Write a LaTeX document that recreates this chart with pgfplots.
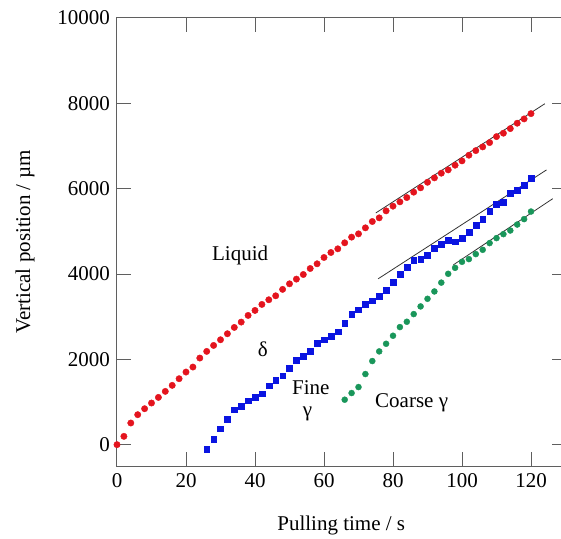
\documentclass[border=0pt]{standalone}
\usepackage{pgfplots}
\pgfplotsset{compat=1.18}
\usepackage{fontspec}
\setmainfont{Liberation Serif}
\definecolor{cred}{RGB}{228,20,30}
\definecolor{cblue}{RGB}{10,20,225}
\definecolor{cgreen}{RGB}{25,150,90}
\definecolor{axgray}{RGB}{95,95,95}
\pgfplotstableread{
t v
0 0
2 195
4 508
6 703
8 843
10 976
12 1108
14 1249
16 1390
18 1546
20 1702
22 1819
24 2030
26 2186
28 2326
30 2459
32 2600
34 2748
36 2873
38 3029
40 3146
42 3287
44 3396
46 3489
48 3640
50 3770
52 3880
54 3988
56 4129
58 4239
60 4387
62 4504
64 4590
66 4731
68 4864
70 4941
72 5082
74 5230
76 5316
78 5480
80 5590
82 5691
84 5792
86 5918
88 6020
90 6150
92 6253
94 6363
96 6440
98 6550
100 6651
102 6784
104 6892
106 6979
108 7080
110 7220
112 7300
114 7408
116 7534
118 7635
120 7759
}\liquid
\pgfplotstableread{
t v
26 -101
28 133
30 375
32 602
34 820
36 897
38 1030
40 1108
42 1194
44 1382
46 1506
48 1616
50 1796
52 1974
54 2068
56 2185
58 2382
60 2459
62 2550
64 2646
66 2850
68 3061
70 3162
72 3286
74 3372
76 3473
78 3614
80 3817
82 3997
84 4152
86 4316
88 4356
90 4450
92 4597
94 4704
96 4785
98 4758
100 4831
102 4981
104 5145
106 5286
108 5464
110 5628
112 5674
114 5895
116 5956
118 6073
120 6246
}\fine
\pgfplotstableread{
t v
66 1054
68 1210
70 1350
72 1655
74 1960
76 2186
78 2365
80 2553
82 2756
84 2881
86 3060
88 3240
90 3419
92 3591
94 3798
96 4005
98 4145
100 4286
102 4349
104 4466
106 4567
108 4724
110 4841
112 4934
114 5019
116 5159
118 5286
120 5464
}\coarse
\begin{document}
\fontsize{21}{25}\selectfont
\begin{tikzpicture}
\begin{axis}[
  scale only axis, width=448.5pt, height=448pt,
  xmin=0, xmax=130, ymin=-500, ymax=10000,
  xtick={0,20,...,120}, ytick={0,2000,...,10000},
  scaled y ticks=false, scaled x ticks=false,
  tick align=inside, major tick length=14pt,
  axis line style={axgray, line width=1pt},
  every tick/.style={axgray, line width=1pt},
  /pgf/number format/1000 sep={},
  /pgf/number format/assume math mode=true,
  ticklabel style={font=\fontsize{21}{25}\selectfont},
  label style={font=\fontsize{21}{25}\selectfont},
  xlabel={Pulling time / s},
  ylabel={Vertical position / µm},
  xlabel style={at={(axis description cs:0.5,-0.132)}, anchor=center},
  ylabel style={at={(axis description cs:-0.205,0.5)}, anchor=center},
  clip=false,
]
\addplot[only marks, mark=*, mark size=3.2pt, cred, mark options={draw=cred, fill=cred}] table[x=t,y=v] {\liquid};
\addplot[only marks, mark=square*, mark size=2.9pt, cblue, mark options={draw=cblue, fill=cblue}] table[x=t,y=v] {\fine};
\addplot[only marks, mark=*, mark size=3pt, cgreen, mark options={draw=cgreen, fill=cgreen}] table[x=t,y=v] {\coarse};
\addplot[black!80, line width=0.8pt] coordinates {(75,5430) (124,7990)};
\addplot[black!80, line width=0.8pt] coordinates {(75.7,3888) (124.5,6440)};
\addplot[black!80, line width=0.8pt] coordinates {(97.5,4215) (126.3,5765)};
\node at (axis cs:35.7,4426) {Liquid};
\node at (axis cs:42.3,2225) {δ};
\node at (axis cs:56.2,1330) {Fine};
\node at (axis cs:55.2,720) {γ};
\node at (axis cs:85.4,972) {Coarse γ};
\end{axis}
\pgfresetboundingbox
\path[use as bounding box] ([xshift=-117pt,yshift=-72pt]current axis.south west) rectangle ([xshift=-4.5pt,yshift=18pt]current axis.north east);
\end{tikzpicture}
\end{document}
